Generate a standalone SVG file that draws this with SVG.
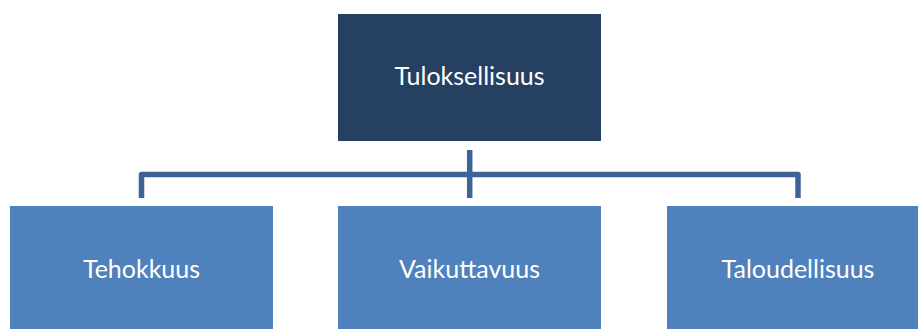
<svg xmlns="http://www.w3.org/2000/svg" width="918" height="329" viewBox="0 0 918 329">
  <style>
    .top { fill: #254061; }
    .sub { fill: #4F81BD; }
    .label { font-family: Lato, "Open Sans", "Liberation Sans", sans-serif; font-size: 25px; fill: #FFFFFF; text-anchor: middle; }
    .link { fill: none; stroke: #3E6497; stroke-width: 5.5; stroke-linejoin: round; }
  </style>
  <rect width="918" height="329" fill="#FFFFFF"/>

  <g id="connectors">
    <path class="link" d="M469.7 150 V198"/>
    <path class="link" d="M141.5 198 V174.5 H798 V198"/>
  </g>

  <g id="node-tuloksellisuus">
    <rect class="top" x="338" y="14" width="263" height="127"/>
    <text class="label" x="469.5" y="85">Tuloksellisuus</text>
  </g>

  <g id="node-tehokkuus">
    <rect class="sub" x="10" y="206" width="263" height="130"/>
    <text class="label" x="141.5" y="278">Tehokkuus</text>
  </g>

  <g id="node-vaikuttavuus">
    <rect class="sub" x="338" y="206" width="263" height="130"/>
    <text class="label" x="469.5" y="278">Vaikuttavuus</text>
  </g>

  <g id="node-taloudellisuus">
    <rect class="sub" x="667" y="206" width="263" height="130"/>
    <text class="label" x="798" y="278">Taloudellisuus</text>
  </g>
</svg>
